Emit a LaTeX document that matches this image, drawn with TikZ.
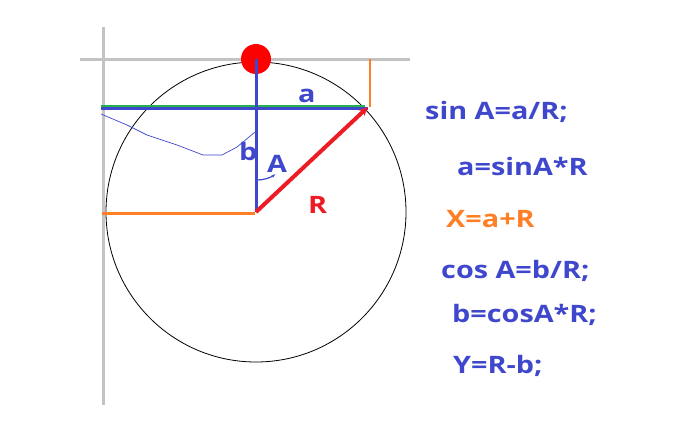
\documentclass[tikz,border=0pt]{standalone}
\usepackage{fontspec}
\setmainfont{Open Sans}
\newfontfamily\eqfont[FakeStretch=1.2]{Open Sans}
\usepackage{tikz}
\usetikzlibrary{arrows.meta}
\definecolor{gGrid}{RGB}{195,195,195}
\definecolor{gBlue}{RGB}{63,72,204}
\definecolor{gRed}{RGB}{237,28,36}
\definecolor{gDot}{RGB}{255,0,0}
\definecolor{gOrange}{RGB}{255,127,39}
\definecolor{gGreen}{RGB}{34,177,76}
\tikzset{
  axis/.style={draw=gGrid, line width=3pt},
  seg/.style={draw=gBlue, line width=3pt},
  proj/.style={draw=gOrange, line width=2.6pt},
  rline/.style={draw=gRed, line width=4pt, -{Stealth[length=9pt,width=8pt]}},
  sym/.style={font=\eqfont\bfseries\fontsize{24}{28}\selectfont, text=gBlue,
              inner sep=0pt, anchor=base west},
  eq/.style={font=\eqfont\bfseries\fontsize{24}{28}\selectfont, text=gBlue,
             inner sep=0pt, anchor=base west},
}
\begin{document}
\begin{tikzpicture}[x=1pt, y=-1pt]
  \useasboundingbox (0,0) rectangle (676,439);
  % reference points
  \coordinate (O) at (256,212);
  \coordinate (T) at (256,59);
  \coordinate (P) at (368,107);
  \coordinate (gl) at (80,59);
  \coordinate (gr) at (410,59);
  \coordinate (gt) at (103,27);
  \coordinate (gb) at (103,405);
  \coordinate (al) at (101,108);
  \coordinate (ar) at (368,108);
  \coordinate (hl) at (101,105.5);
  \coordinate (hr) at (365,105.5);
  \coordinate (xt) at (370,59);
  \coordinate (xb) at (370,107);
  \coordinate (yl) at (102,213.5);
  \coordinate (yr) at (255,213.5);
  % grid lines
  \draw[axis] (gl) -- (gr);
  \draw[axis] (gt) -- (gb);
  % circle
  \draw[black, line width=0.8pt] (O) circle[radius=150];
  \fill[gDot] (T) circle[radius=15];
  % projections
  \draw[proj] (xt) -- (xb);
  \draw[proj] (yl) -- (yr);
  \draw[seg] (al) -- (ar);
  \draw[gGreen, line width=2pt] (hl) -- (hr);
  \draw[seg] (T) -- (O);
  % freehand stroke
  \draw[gBlue, line width=0.7pt] (101,114) -- (127,125) -- (147,135) -- (177,145)
    -- (203,155) -- (222,155) -- (237,147) -- (255,132);
  % angle mark
  \draw[gBlue, line width=1.2pt, -{Stealth[length=4pt]}] (257,180) arc[start angle=90, end angle=55, radius=32];
  \draw[rline] (O) -- (P);
  % labels
  \node[sym] (la) at (298,102) {a};
  \node[sym] (lb) at (239,160) {b};
  \node[sym] (lA) at (267,172) {A};
  \node[sym, text=gRed] (lR) at (308,213) {R};
  % formulas
  \node[eq] (e1) at (425,119) {sin A=a/R;};
  \node[eq] (e2) at (457,175) {a=sinA*R};
  \node[eq, text=gOrange] (e3) at (446,227) {X=a+R};
  \node[eq] (e4) at (441,278) {cos A=b/R;};
  \node[eq] (e5) at (452,322) {b=cosA*R;};
  \node[eq] (e6) at (453,373) {Y=R-b;};
\end{tikzpicture}
\end{document}
